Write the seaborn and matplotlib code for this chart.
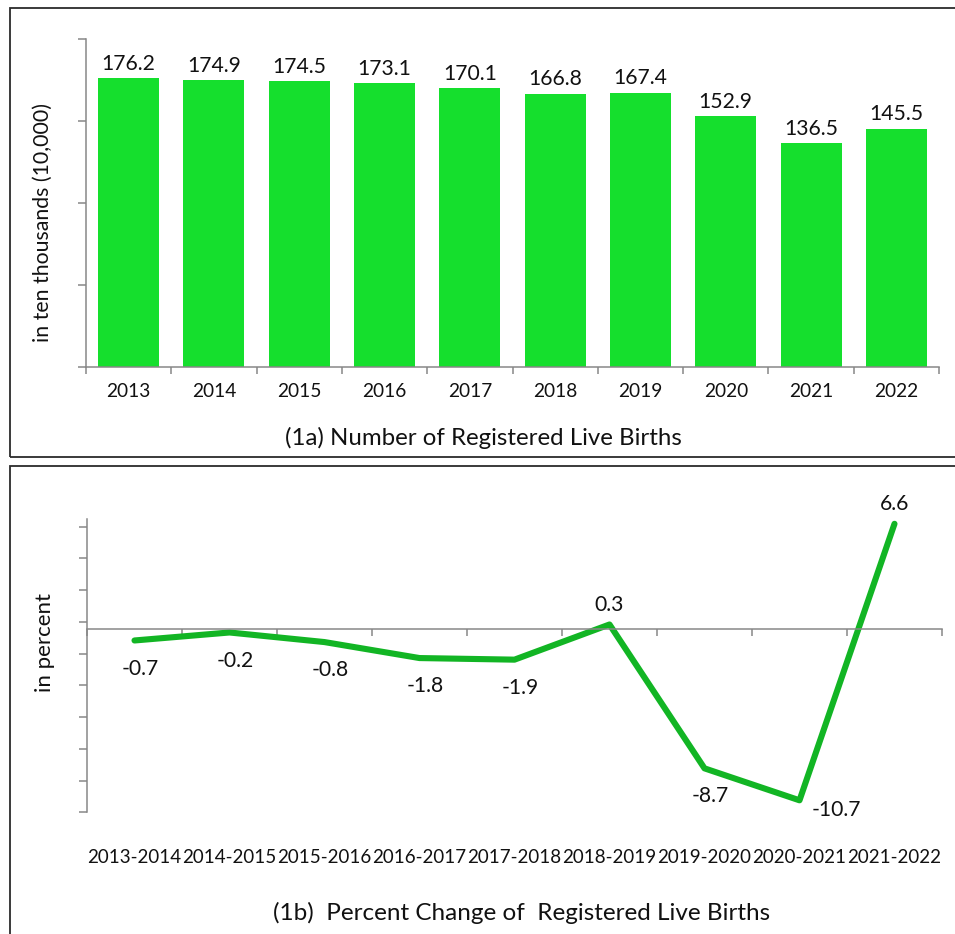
import numpy as np
import matplotlib
matplotlib.use("Agg")
import matplotlib.pyplot as plt
import seaborn as sns
from matplotlib.patches import Rectangle

# ---- data -------------------------------------------------------------
years = ["2013", "2014", "2015", "2016", "2017", "2018", "2019", "2020", "2021", "2022"]
births = [176.2, 174.9, 174.5, 173.1, 170.1, 166.8, 167.4, 152.9, 136.5, 145.5]

periods = ["2013-2014", "2014-2015", "2015-2016", "2016-2017", "2017-2018",
           "2018-2019", "2019-2020", "2020-2021", "2021-2022"]
pct_change = [-0.7, -0.2, -0.8, -1.8, -1.9, 0.3, -8.7, -10.7, 6.6]

# ---- style ------------------------------------------------------------
sns.set_theme(style="white")
plt.rcParams["font.family"] = ["Lato", "DejaVu Sans"]

BAR_GREEN = "#15DF2D"
LINE_GREEN = "#12B524"
AXIS_GREY = "#878787"
TEXT = "#111111"

W, H = 955, 934
fig = plt.figure(figsize=(W / 100, H / 100), dpi=100)


def px_box(left, top, right, bottom):
    """Figure-fraction rectangle from pixel edges."""
    return [left / W, 1 - bottom / H, (right - left) / W, (bottom - top) / H]


def style_axis(ax):
    for side in ("top", "right"):
        ax.spines[side].set_visible(False)
    for side in ("left", "bottom"):
        ax.spines[side].set_color(AXIS_GREY)
        ax.spines[side].set_linewidth(1.1)
    ax.tick_params(axis="both", which="both", color=AXIS_GREY, width=1.1,
                   direction="out", labelcolor=TEXT, bottom=True, left=True)


# ---- panel frames ------------------------------------------------------
fig.add_artist(Rectangle((9.5 / W, 1 - 457 / H), 1.0, (457 - 8) / H,
                         transform=fig.transFigure, fill=False,
                         ec="#2b2b2b", lw=1.3))
fig.add_artist(Rectangle((9.5 / W, -0.05), 1.0, 0.05 + (H - 466) / H,
                         transform=fig.transFigure, fill=False,
                         ec="#2b2b2b", lw=1.3))

# ---- (1a) bars ---------------------------------------------------------
ax1 = fig.add_axes(px_box(86, 39.3, 939, 366.7))
sns.barplot(x=years, y=births, color=BAR_GREEN, saturation=1, width=0.715,
            edgecolor="none", ax=ax1)
style_axis(ax1)
ax1.set_xlim(-0.5, len(years) - 0.5)
ax1.set_ylim(0, 200)
ax1.set_yticks([0, 50, 100, 150, 200])
ax1.set_yticklabels([])
ax1.tick_params(axis="y", length=6)
ax1.set_xticks(np.arange(-0.5, len(years), 1.0), minor=True)
ax1.tick_params(axis="x", which="minor", length=5)
ax1.tick_params(axis="x", which="major", length=0, pad=12, labelsize=13.8)
ax1.bar_label(ax1.containers[0], labels=[f"{v:.1f}" for v in births],
              padding=3, fontsize=15.2, color=TEXT)
ax1.set_ylabel("in ten thousands (10,000)", fontsize=15.3, color=TEXT,
               va="center")
ax1.yaxis.set_label_coords((43 - 86) / 853, (366.7 - 222) / 327.4)
ax1.set_xlabel("(1a) Number of Registered Live Births", fontsize=17.3,
               color=TEXT, va="center")
ax1.xaxis.set_label_coords((483 - 86) / 853, -(438 - 366.7) / 327.4)

# ---- (1b) line ---------------------------------------------------------
ax2 = fig.add_axes(px_box(87, 519, 942, 812.3))
sns.lineplot(x=periods, y=pct_change, color=LINE_GREEN, lw=4.4, sort=False,
             ax=ax2, solid_capstyle="round")
style_axis(ax2)
ax2.set_xlim(-0.5, len(periods) - 0.5)
ax2.set_ylim(-11.45, 6.9)
ax2.set_yticks(np.linspace(-11.45, 6.42, 10))
ax2.set_yticklabels([])
ax2.tick_params(axis="y", length=6)
ax2.spines["bottom"].set_position(("data", 0))
ax2.set_xticks(np.arange(-0.5, len(periods), 1.0), minor=True)
ax2.tick_params(axis="x", which="minor", length=5)
ax2.tick_params(axis="x", which="major", length=0, pad=158, labelsize=13.5)

for i, v in enumerate(pct_change):
    if v > 0:
        off, ha, va = (0, 7), "center", "bottom"
    elif i == len(pct_change) - 2:
        off, ha, va = (9, -7), "left", "center"
    else:
        off, ha, va = (4, -13), "center", "top"
    ax2.annotate(f"{v:.1f}", (i, v), xytext=off, textcoords="offset points",
                 ha=ha, va=va, fontsize=15.2, color=TEXT)

ax2.set_ylabel("in percent", fontsize=16, color=TEXT, va="center")
ax2.yaxis.set_label_coords((45 - 87) / 855, (812.3 - 643) / 293.3)
ax2.set_xlabel("(1b)  Percent Change of  Registered Live Births",
               fontsize=17.5, color=TEXT, va="center")
ax2.xaxis.set_label_coords((522 - 87) / 855, -(913 - 812.3) / 293.3)

fig.savefig("out.png", dpi=100, facecolor="white")
